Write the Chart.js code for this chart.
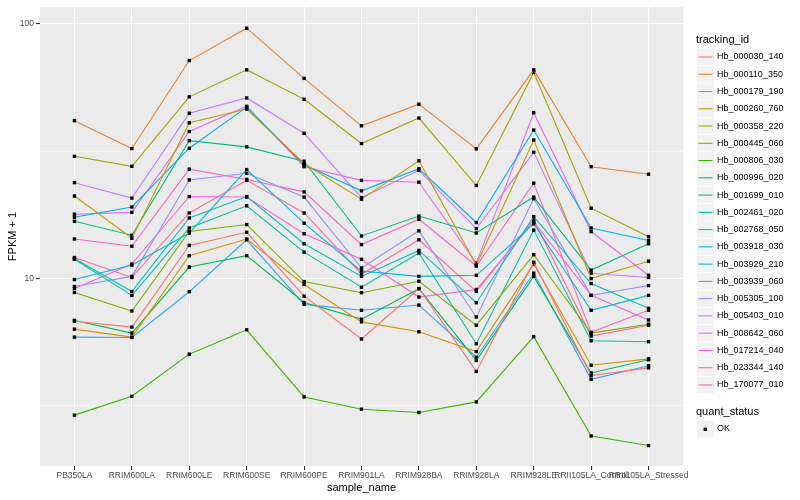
<!DOCTYPE html>
<html><head><meta charset="utf-8">
<script src="https://cdn.jsdelivr.net/npm/chart.js@4/dist/chart.umd.min.js"></script>
<style>html,body{margin:0;padding:0;background:#fff;}#wrap{width:800px;height:500px;}</style>
</head><body><div id="wrap"><canvas id="c" width="800" height="500"></canvas></div>
<script>
const categories = ["PB350LA","RRIM600LA","RRIM600LE","RRIM600SE","RRIM600PE","RRIM901LA","RRIM928BA","RRIM928LA","RRIM928LE","RRII105LA_Control","RRII105LA_Stressed"];
const seriesNames = ["Hb_000030_140","Hb_000110_350","Hb_000179_190","Hb_000260_760","Hb_000358_220","Hb_000445_060","Hb_000806_030","Hb_000996_020","Hb_001699_010","Hb_002461_020","Hb_002768_050","Hb_003918_030","Hb_003929_210","Hb_003939_060","Hb_005305_100","Hb_005403_010","Hb_008642_060","Hb_017214_040","Hb_023344_140","Hb_170077_010"];
const seriesColors = ["#F8766D","#EA8331","#D89000","#C09B00","#A3A500","#7CAE00","#39B600","#00BB4E","#00BF7D","#00C1A3","#00BFC4","#00BAE0","#00B0F6","#35A2FF","#9590FF","#C77CFF","#E76BF3","#FA62DB","#FF62BC","#FF6C91"];
const yTickValues = [3.1623, 10, 31.623, 100];
const yTickLabels = ["", "10", "", "100"];

const hb_000030_140 = [6.80, 6.45, 13.5, 15.2, 8.53, 5.79, 9.14, 4.32, 11.6, 4.16, 4.46];
const hb_000110_350 = [41.7, 32.4, 71.8, 96.2, 61.1, 39.8, 48.4, 32.3, 66.0, 27.5, 25.7];
const hb_000179_190 = [6.33, 5.89, 12.3, 14.3, 9.48, 6.76, 6.18, 5.17, 11.4, 4.57, 4.84];
const hb_000260_760 = [21.1, 14.4, 40.9, 46.3, 28.3, 20.5, 29.0, 11.3, 35.0, 10.0, 11.7];
const hb_000358_220 = [30.2, 27.6, 51.7, 66.0, 50.6, 33.9, 42.7, 23.2, 64.5, 18.9, 14.6];
const hb_000445_060 = [8.82, 7.46, 15.3, 16.3, 9.73, 8.80, 9.76, 6.56, 12.4, 6.11, 6.62];
const hb_000806_030 = [2.91, 3.45, 5.05, 6.29, 3.43, 3.07, 2.98, 3.28, 5.91, 2.41, 2.21];
const hb_000996_020 = [6.85, 6.11, 11.1, 12.3, 8.06, 6.93, 9.12, 4.77, 10.2, 4.26, 4.80];
const hb_001699_010 = [16.8, 14.8, 34.8, 32.9, 28.9, 14.7, 17.6, 15.1, 20.9, 10.8, 13.7];
const hb_002461_020 = [11.9, 8.59, 15.8, 19.3, 12.7, 9.25, 12.6, 5.55, 15.5, 5.70, 5.65];
const hb_002768_050 = [12.0, 8.90, 17.3, 21.0, 13.7, 10.2, 12.9, 8.04, 17.5, 9.56, 7.64];
const hb_003918_030 = [9.91, 11.3, 15.1, 26.8, 16.5, 10.7, 10.2, 10.3, 16.4, 7.51, 8.59];
const hb_003929_210 = [17.4, 19.1, 32.5, 47.1, 28.0, 22.1, 27.0, 16.6, 38.3, 15.8, 14.1];
const hb_003939_060 = [5.89, 5.87, 8.88, 14.2, 7.92, 7.51, 7.87, 4.91, 10.5, 4.02, 4.55];
const hb_005305_100 = [9.31, 10.2, 24.4, 25.9, 20.9, 11.0, 15.4, 7.07, 20.6, 8.59, 9.39];
const hb_005403_010 = [23.8, 20.7, 44.6, 51.2, 37.2, 20.8, 26.6, 15.7, 31.3, 10.5, 10.1];
const hb_008642_060 = [17.9, 18.2, 37.8, 47.5, 27.5, 24.3, 23.9, 11.5, 44.8, 15.3, 10.3];
const hb_017214_040 = [9.14, 11.4, 21.0, 20.9, 15.0, 11.9, 8.46, 9.06, 16.7, 8.60, 6.88];
const hb_023344_140 = [14.3, 13.4, 26.9, 24.5, 21.9, 13.6, 17.1, 11.2, 23.7, 6.15, 7.51];
const hb_170077_010 = [12.1, 10.1, 18.1, 24.3, 18.1, 10.4, 14.2, 8.90, 17.0, 5.95, 6.56];

const seriesValues = [hb_000030_140, hb_000110_350, hb_000179_190, hb_000260_760, hb_000358_220, hb_000445_060, hb_000806_030, hb_000996_020, hb_001699_010, hb_002461_020, hb_002768_050, hb_003918_030, hb_003929_210, hb_003939_060, hb_005305_100, hb_005403_010, hb_008642_060, hb_017214_040, hb_023344_140, hb_170077_010];

const FONT = '"Liberation Sans", Arial, Helvetica, sans-serif';

const bgPlugin = {
  id: 'ggBg',
  beforeDraw(chart) {
    const {ctx, chartArea: a} = chart;
    ctx.save();
    ctx.fillStyle = '#FFFFFF';
    ctx.fillRect(0, 0, chart.width, chart.height);
    ctx.fillStyle = '#EBEBEB';
    ctx.fillRect(a.left, a.top, a.right - a.left, a.bottom - a.top);
    ctx.restore();
  }
};

const legendPlugin = {
  id: 'ggLegend',
  afterDraw(chart) {
    const ctx = chart.ctx;
    ctx.save();
    ctx.textBaseline = 'middle';
    ctx.textAlign = 'left';
    ctx.fillStyle = '#000';
    ctx.font = '11px ' + FONT;
    ctx.fillText('tracking_id', 696, 40);
    seriesNames.forEach((n, i) => {
      const cy = 57 + i * 17.26;
      ctx.fillStyle = '#F2F2F2';
      ctx.fillRect(697, cy - 8.3, 17, 16.6);
      ctx.strokeStyle = seriesColors[i];
      ctx.lineWidth = 1.1;
      ctx.beginPath(); ctx.moveTo(698.5, cy); ctx.lineTo(712.5, cy); ctx.stroke();
      ctx.fillStyle = '#000';
      ctx.font = '9px ' + FONT;
      ctx.fillText(n, 717, cy);
    });
    ctx.font = '11px ' + FONT;
    ctx.fillText('quant_status', 696, 412);
    ctx.fillStyle = '#F2F2F2';
    ctx.fillRect(697, 421, 17, 16.6);
    ctx.fillStyle = '#000';
    ctx.fillRect(703.6, 427.6, 3.4, 3.4);
    ctx.font = '9px ' + FONT;
    ctx.fillText('OK', 717, 429);
    ctx.restore();
  }
};

const isMajorY = v => Math.abs(v - 10) < 1e-6 || Math.abs(v - 100) < 1e-6;

new Chart(document.getElementById('c'), {
  type: 'line',
  data: {
    datasets: seriesValues.map((vals, i) => ({
      label: seriesNames[i],
      data: vals.map((v, j) => ({x: j, y: v})),
      borderColor: seriesColors[i],
      backgroundColor: seriesColors[i],
      borderWidth: 1.1,
      pointStyle: 'rect',
      pointRadius: 2.4,
      pointBorderWidth: 0,
      pointBackgroundColor: '#000',
      pointHoverRadius: 2.4,
      tension: 0,
      fill: false
    }))
  },
  options: {
    responsive: false,
    animation: false,
    devicePixelRatio: 1,
    layout: {padding: {left: 0, right: 117, top: 5, bottom: 0}},
    plugins: {legend: {display: false}, tooltip: {enabled: false}},
    scales: {
      x: {
        type: 'linear',
        min: -0.6,
        max: categories.length - 1 + 0.6,
        afterBuildTicks: s => { s.ticks = categories.map((_, i) => ({value: i})); },
        afterFit: s => { s.height = 34; },
        border: {display: false},
        grid: {color: '#FFFFFF', lineWidth: 1.1, tickLength: 4, tickColor: '#333333', drawOnChartArea: true},
        ticks: {
          autoSkip: false, maxRotation: 0, minRotation: 0, padding: 1,
          color: '#4D4D4D', font: {size: 8.5, family: FONT},
          callback: v => categories[v] !== undefined ? categories[v] : ''
        },
        title: {display: true, text: 'sample_name', color: '#000', font: {size: 11, family: FONT}, padding: {top: 0, bottom: 5.4}}
      },
      y: {
        type: 'logarithmic',
        min: 1.837,
        max: 116.4,
        afterBuildTicks: s => { s.ticks = yTickValues.map(v => ({value: v})); },
        afterFit: s => { s.width = 40; },
        border: {display: false},
        grid: {
          color: '#FFFFFF',
          lineWidth: c => (c.tick && isMajorY(c.tick.value)) ? 1.1 : 0.55,
          tickLength: 4,
          tickColor: c => (c.tick && isMajorY(c.tick.value)) ? '#333333' : 'rgba(0,0,0,0)'
        },
        ticks: {
          padding: 2, color: '#4D4D4D', font: {size: 8.5, family: FONT},
          callback: (v, i) => yTickLabels[i]
        },
        title: {display: true, text: 'FPKM + 1', color: '#000', font: {size: 11, family: FONT}, padding: {top: 6.4, bottom: 0}}
      }
    }
  },
  plugins: [bgPlugin, legendPlugin]
});
</script>
</body></html>
